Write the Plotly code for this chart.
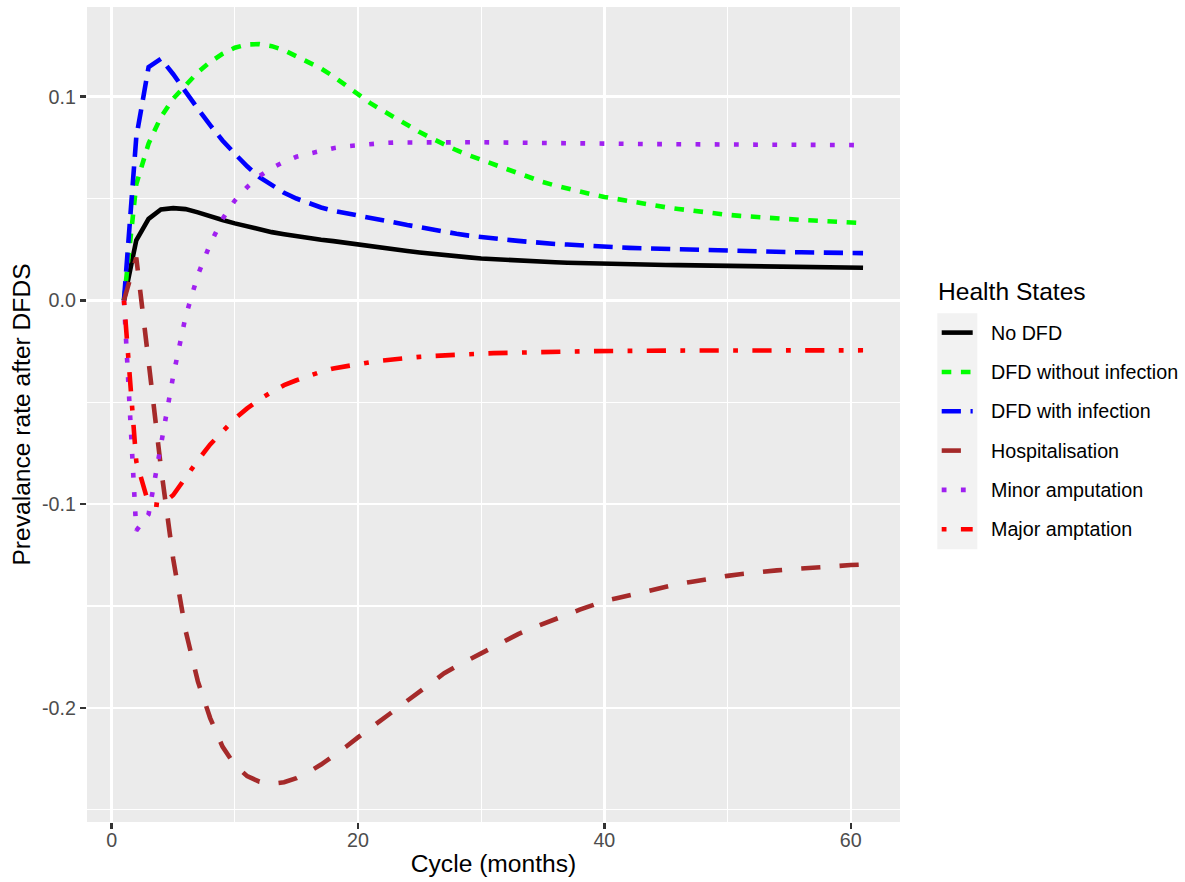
import plotly.graph_objects as go

cycle = list(range(1, 62))

no_dfd = [0, 0.0295, 0.040, 0.0446, 0.0453, 0.0448, 0.0432, 0.0412, 0.0395, 0.0378,
          0.0362, 0.0348, 0.0335, 0.0325, 0.0315, 0.0306, 0.0298, 0.0291, 0.0282, 0.0274,
          0.0266, 0.0257, 0.0249, 0.0242, 0.0235, 0.0228, 0.0222, 0.0216, 0.0211, 0.0206,
          0.0202, 0.0198, 0.0195, 0.0192, 0.0189, 0.0187, 0.0185, 0.0183, 0.0182, 0.0181,
          0.0179, 0.0178, 0.0176, 0.0175, 0.0174, 0.0173, 0.0172, 0.0171, 0.0170, 0.0168,
          0.0167, 0.0166, 0.0165, 0.0165, 0.0164, 0.0163, 0.0163, 0.0162, 0.0161, 0.0161, 0.0160]

dfd_no_inf = [0, 0.057, 0.077, 0.090, 0.099, 0.1055, 0.112, 0.117, 0.121, 0.1240,
              0.1256, 0.1258, 0.1248, 0.1228, 0.1200, 0.1170, 0.1138, 0.1100, 0.1055, 0.1008,
              0.0968, 0.0932, 0.0895, 0.0860, 0.0826, 0.0795, 0.0765, 0.0737, 0.0712, 0.0690,
              0.0666, 0.0642, 0.0619, 0.0600, 0.0581, 0.0564, 0.0548, 0.0532, 0.0520, 0.0508,
              0.0497, 0.0486, 0.0476, 0.0466, 0.0457, 0.0449, 0.0441, 0.0434, 0.0427, 0.0420,
              0.0415, 0.0410, 0.0405, 0.0402, 0.0399, 0.0395, 0.0392, 0.0389, 0.0386, 0.0382, 0.0379]

dfd_inf = [0, 0.080, 0.1145, 0.1186, 0.111, 0.102, 0.094, 0.086, 0.0785, 0.072,
           0.0658, 0.0605, 0.0565, 0.0528, 0.0500, 0.0476, 0.0456, 0.0440, 0.0428, 0.0416,
           0.0403, 0.0390, 0.0380, 0.0370, 0.0360, 0.0348, 0.0337, 0.0327, 0.0318, 0.0310,
           0.0304, 0.0298, 0.0292, 0.0286, 0.0280, 0.0277, 0.0274, 0.0270, 0.0267, 0.0264,
           0.0261, 0.0258, 0.0256, 0.0254, 0.0252, 0.0250, 0.0248, 0.0246, 0.0244, 0.0242,
           0.0241, 0.0240, 0.0239, 0.0238, 0.0237, 0.0236, 0.0235, 0.0234, 0.0233, 0.0232, 0.0232]

hospital = [0, 0.021, -0.030, -0.082, -0.127, -0.162, -0.187, -0.205, -0.219, -0.228,
            -0.2335, -0.2362, -0.2372, -0.2365, -0.2345, -0.2315, -0.2278, -0.2238, -0.2192, -0.2145,
            -0.2098, -0.2055, -0.2010, -0.1965, -0.1920, -0.1875, -0.1830, -0.1795, -0.1763, -0.1733,
            -0.1700, -0.1668, -0.1638, -0.1612, -0.1588, -0.1563, -0.1540, -0.1518, -0.1497, -0.1475,
            -0.1462, -0.1447, -0.1432, -0.1418, -0.1404, -0.1392, -0.1382, -0.1371, -0.1360, -0.1352,
            -0.1344, -0.1336, -0.1330, -0.1325, -0.1320, -0.1315, -0.1311, -0.1306, -0.1302, -0.1299, -0.1296]

minor_amp = [0, -0.113, -0.105, -0.071, -0.037, -0.008, 0.0125, 0.0277, 0.0400, 0.0490,
             0.0556, 0.0610, 0.0650, 0.0680, 0.0705, 0.0720, 0.0735, 0.0747, 0.0756, 0.0763,
             0.0768, 0.0772, 0.0775, 0.0776, 0.0777, 0.0777, 0.0777, 0.0777, 0.0776, 0.0776,
             0.0775, 0.0775, 0.0774, 0.0773, 0.0772, 0.0771, 0.0771, 0.0770, 0.0770, 0.0769,
             0.0769, 0.0768, 0.0768, 0.0767, 0.0767, 0.0766, 0.0766, 0.0766, 0.0765, 0.0765,
             0.0765, 0.0764, 0.0764, 0.0764, 0.0763, 0.0763, 0.0763, 0.0763, 0.0762, 0.0762, 0.0762]

major_amp = [0, -0.079, -0.0998, -0.1005, -0.0955, -0.0868, -0.0785, -0.0707, -0.0640, -0.0581,
             -0.0530, -0.0486, -0.0449, -0.0416, -0.0392, -0.0368, -0.0350, -0.0334, -0.0322, -0.0312,
             -0.0303, -0.0295, -0.0288, -0.0282, -0.0277, -0.0273, -0.0269, -0.0266, -0.0263, -0.0261,
             -0.0259, -0.0257, -0.0256, -0.0254, -0.0253, -0.0252, -0.0251, -0.0250, -0.0249, -0.0248,
             -0.0248, -0.0248, -0.0247, -0.0247, -0.0247, -0.0247, -0.0246, -0.0246, -0.0246, -0.0246,
             -0.0246, -0.0246, -0.0245, -0.0245, -0.0245, -0.0245, -0.0245, -0.0245, -0.0245, -0.0245, -0.0245]

series_names = ["No DFD", "DFD without infection", "DFD with infection",
                "Hospitalisation", "Minor amputation", "Major amptation"]
series_values = [no_dfd, dfd_no_inf, dfd_inf, hospital, minor_amp, major_amp]
series_colors = ["#000000", "#00FF00", "#0000FF", "#A52A2A", "#A020F0", "#FF0000"]
series_dashes = ["solid", "9.6px,9.6px", "19.2px,9.6px", "19.2px,19.2px",
                 "4.8px,14.4px", "4.8px,14.4px,19.2px,14.4px"]
legend_title = "Health States"

x_ticks = [0, 20, 40, 60]
x_ticktext = ["0", "20", "40", "60"]
y_ticks = [-0.2, -0.1, 0.0, 0.1]
y_ticktext = ["-0.2", "-0.1", "0.0", "0.1"]

FONT = "Liberation Sans, Arial, sans-serif"
LW = 4.6

W, H = 1185, 882
ml, mr, mt, mb = 87, 285, 7, 60
pw, ph = W - ml - mr, H - mt - mb


def px2paper_x(px):
    return (px - ml) / pw


def px2paper_y(py):
    return (H - mb - py) / ph


fig = go.Figure()
for name, vals, col, dash in zip(series_names, series_values, series_colors, series_dashes):
    fig.add_trace(go.Scatter(
        x=cycle, y=vals, mode="lines", name=name, showlegend=False,
        line=dict(color=col, width=LW, dash=dash),
    ))

# ---- ggplot-style legend drawn in paper coordinates ----
shapes = [dict(type="rect", xref="paper", yref="paper",
               x0=px2paper_x(937.3), x1=px2paper_x(977.3),
               y0=px2paper_y(549.3), y1=px2paper_y(313.3),
               fillcolor="#F2F2F2", line=dict(width=0), layer="below")]
annotations = [dict(text=legend_title, xref="paper", yref="paper",
                    x=px2paper_x(937), y=px2paper_y(291.7), xanchor="left", yanchor="middle",
                    showarrow=False, borderpad=0,
                    font=dict(size=24.6, color="black", family=FONT))]
row0, row_step = 332.6, 39.33
for i, (name, col, dash) in enumerate(zip(series_names, series_colors, series_dashes)):
    yc = row0 + i * row_step
    shapes.append(dict(type="line", xref="paper", yref="paper",
                       x0=px2paper_x(941.7), x1=px2paper_x(972.7),
                       y0=px2paper_y(yc), y1=px2paper_y(yc),
                       line=dict(color=col, width=LW, dash=dash)))
    annotations.append(dict(text=name, xref="paper", yref="paper",
                            x=px2paper_x(989.5), y=px2paper_y(yc), xanchor="left", yanchor="middle",
                            showarrow=False, borderpad=0,
                            font=dict(size=19.7, color="black", family=FONT)))

fig.update_layout(
    width=W, height=H,
    margin=dict(l=ml, r=mr, t=mt, b=mb, pad=0, autoexpand=False),
    paper_bgcolor="white", plot_bgcolor="#EBEBEB",
    font=dict(family=FONT, color="black", size=20),
    showlegend=False,
    hovermode=False,
    shapes=shapes,
    annotations=annotations,
    xaxis=dict(
        range=[-2, 64], tickvals=x_ticks, ticktext=x_ticktext, automargin=False,
        showgrid=True, gridcolor="white", gridwidth=2.4,
        minor=dict(dtick=10, tick0=0, showgrid=True, gridcolor="white", gridwidth=1.2, ticks=""),
        zeroline=False, showline=False,
        ticks="outside", ticklen=6.2, tickwidth=2.4, tickcolor="#333333",
        ticklabelstandoff=-6,
        tickfont=dict(size=19.7, color="#4D4D4D", family=FONT),
        title=dict(text="Cycle (months)", font=dict(size=24.6, color="black", family=FONT), standoff=4),
    ),
    yaxis=dict(
        range=[-0.256, 0.144], tickvals=y_ticks, ticktext=y_ticktext, automargin=False,
        showgrid=True, gridcolor="white", gridwidth=2.4,
        minor=dict(tickvals=[-0.25, -0.15, -0.05, 0.05], showgrid=True, gridcolor="white", gridwidth=1.2, ticks=""),
        zeroline=False, showline=False,
        ticks="outside", ticklen=6.2, tickwidth=2.4, tickcolor="#333333",
        tickfont=dict(size=19.7, color="#4D4D4D", family=FONT),
        title=dict(text="Prevalance rate after DFDS", font=dict(size=24.6, color="black", family=FONT), standoff=4),
    ),
)

fig.write_html(
    "out.html",
    config={"displayModeBar": False, "staticPlot": True},
    post_script="document.body.style.margin='0px'; document.body.style.padding='0px'; document.body.style.overflow='hidden';",
)
